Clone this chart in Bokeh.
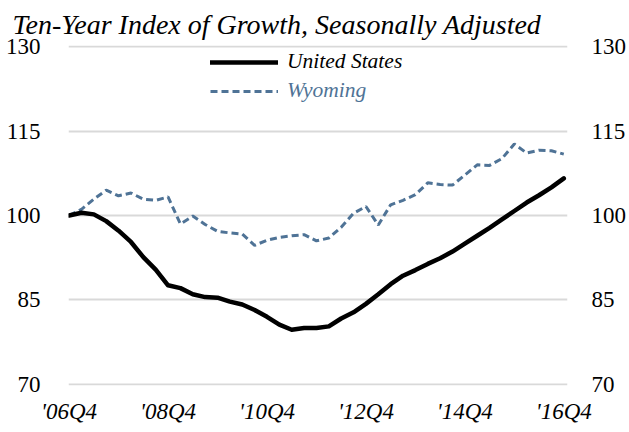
from bokeh.plotting import figure
from bokeh.models import FixedTicker, LinearAxis, Legend, LegendItem, Range1d
from bokeh.embed import file_html
from bokeh.resources import INLINE

# ---- data (quarterly, 2006Q4 .. 2016Q4, index 2006Q4 = 100) ----
quarters = list(range(41))
us = [100.0, 100.5, 100.2, 99.0, 97.3, 95.3, 92.6, 90.4, 87.6, 87.1,
      86.0, 85.5, 85.4, 84.7, 84.2, 83.2, 82.0, 80.6, 79.7, 80.0,
      80.0, 80.3, 81.7, 82.8, 84.3, 86.0, 87.8, 89.3, 90.3, 91.4,
      92.4, 93.6, 95.0, 96.4, 97.8, 99.3, 100.8, 102.3, 103.6, 105.0,
      106.6]
wyoming = [100.0, 101.1, 102.9, 104.5, 103.5, 104.0, 102.9, 102.7, 103.3, 98.5,
           99.9, 98.4, 97.2, 96.9, 96.7, 94.7, 95.6, 96.1, 96.4, 96.6,
           95.5, 96.0, 97.9, 100.4, 101.6, 98.3, 101.9, 102.7, 103.7, 105.8,
           105.5, 105.4, 107.2, 109.0, 108.9, 110.1, 112.7, 111.1, 111.6, 111.5,
           110.9]
x_tick_positions = [0, 8, 16, 24, 32, 40]
x_tick_labels = ["'06Q4", "'08Q4", "'10Q4", "'12Q4", "'14Q4", "'16Q4"]
y_ticks = [70, 85, 100, 115, 130]
title_text = "Ten-Year Index of Growth, Seasonally Adjusted"

FONT = "Liberation Serif"
US_COLOR = "black"
WY_COLOR = "#4f7396"

p = figure(width=629, height=432, output_backend="svg", toolbar_location=None,
           x_range=Range1d(-0.05, 40.3), y_range=Range1d(69.8, 130.2),
           min_border_left=68, min_border_right=61, min_border_top=45,
           min_border_bottom=47, title=title_text)
p.outline_line_color = None
p.background_fill_color = "white"
p.border_fill_color = "white"

p.title.text_font = FONT
p.title.text_font_style = "italic"
p.title.text_font_size = "28px"
p.title.text_color = "black"
p.title.align = "left"
p.title.offset = -56
p.title.standoff = 12

p.xgrid.grid_line_color = None
p.ygrid.grid_line_color = "#d9d9d9"
p.ygrid.grid_line_width = 2
p.ygrid.ticker = FixedTicker(ticks=y_ticks)

xa = p.xaxis[0]
xa.ticker = FixedTicker(ticks=x_tick_positions)
xa.major_label_overrides = {k: v for k, v in zip(x_tick_positions, x_tick_labels)}
xa.axis_line_color = None
xa.major_tick_line_color = None
xa.minor_tick_line_color = None
xa.major_tick_out = 0
xa.major_label_standoff = 13
xa.major_label_text_font = FONT
xa.major_label_text_font_style = "italic"
xa.major_label_text_font_size = "23px"
xa.major_label_text_color = "black"

ya = p.yaxis[0]
ya.ticker = FixedTicker(ticks=y_ticks)
ya.axis_line_color = None
ya.major_tick_line_color = None
ya.minor_tick_line_color = None
ya.major_tick_out = 0
ya.major_label_standoff = 28
ya.major_label_text_font = FONT
ya.major_label_text_font_size = "23px"
ya.major_label_text_color = "black"

ra = LinearAxis(ticker=FixedTicker(ticks=y_ticks))
ra.axis_line_color = None
ra.major_tick_line_color = None
ra.minor_tick_line_color = None
ra.major_tick_out = 0
ra.major_label_standoff = 24
ra.major_label_text_font = FONT
ra.major_label_text_font_size = "23px"
ra.major_label_text_color = "black"
p.add_layout(ra, "right")

wy_r = p.line(quarters, wyoming, line_color=WY_COLOR, line_width=3,
              line_dash="7 4")
us_r = p.line(quarters, us, line_color=US_COLOR, line_width=4.5,
              line_join="round", line_cap="round")

common = dict(padding=0, margin=0, border_line_color=None,
              background_fill_alpha=0, glyph_width=68, glyph_height=24,
              label_height=24, label_standoff=9, label_text_font=FONT,
              label_text_font_style="italic", label_text_font_size="21.5px",
              spacing=0)
leg_us = Legend(items=[LegendItem(label="United States", renderers=[us_r])],
                location=(142, 311), label_text_color="black", **common)
leg_wy = Legend(items=[LegendItem(label="Wyoming", renderers=[wy_r])],
                location=(142, 282), label_text_color=WY_COLOR, **common)
p.add_layout(leg_us)
p.add_layout(leg_wy)

open("out.html", "w").write(file_html(p, INLINE))
